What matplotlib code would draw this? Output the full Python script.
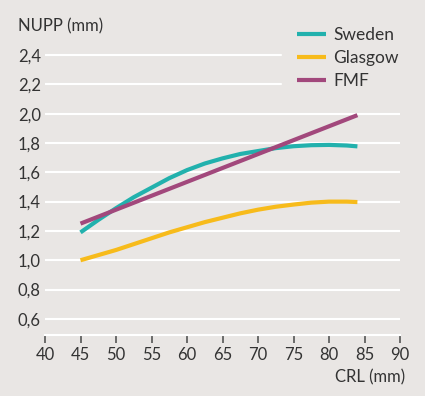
import matplotlib.pyplot as plt

crl = [45, 47.5, 50, 52.5, 55, 57.5, 60, 62.5, 65, 67.5, 70, 72.5, 75, 77.5, 80, 82.5, 84]
sweden = [1.19, 1.275, 1.355, 1.43, 1.495, 1.56, 1.615, 1.66, 1.695, 1.725,
          1.745, 1.765, 1.778, 1.785, 1.787, 1.783, 1.777]
glasgow = [1.00, 1.035, 1.07, 1.11, 1.15, 1.19, 1.225, 1.26, 1.29, 1.32,
           1.345, 1.365, 1.38, 1.393, 1.40, 1.40, 1.397]
fmf_x = [45, 84]
fmf = [1.25, 1.99]

yticks = [0.6, 0.8, 1.0, 1.2, 1.4, 1.6, 1.8, 2.0, 2.2, 2.4]
xticks = [40, 45, 50, 55, 60, 65, 70, 75, 80, 85, 90]

bg = "#e9e6e4"
txt = "#333333"
plt.rcParams["font.family"] = ["Lato", "DejaVu Sans"]

fig = plt.figure(figsize=(4.25, 3.96), dpi=100, facecolor=bg)
ax = fig.add_axes([45 / 425, 61 / 396, 355 / 425, 294.6 / 396], facecolor=bg)

ax.plot(crl, sweden, color="#22b1ad", lw=3, solid_capstyle="butt", label="Sweden")
ax.plot(crl, glasgow, color="#f7bb1b", lw=3, solid_capstyle="butt", label="Glasgow")
ax.plot(fmf_x, fmf, color="#a2487c", lw=3, solid_capstyle="butt", label="FMF")

ax.set_xlim(40, 90)
ax.set_ylim(0.49, 2.5)
ax.set_yticks(yticks)
ax.set_yticklabels([f"{v:.1f}".replace(".", ",") for v in yticks], ha="left")
ax.set_xticks(xticks)
ax.grid(axis="y", color="white", lw=1.5)
ax.set_axisbelow(True)
ax.tick_params(axis="y", length=0, pad=19.5, labelsize=12, labelcolor=txt)
ax.tick_params(axis="x", length=6, width=1.2, color="#555555", pad=3,
               labelsize=12, labelcolor=txt)
for s in ["top", "right", "left"]:
    ax.spines[s].set_visible(False)
ax.spines["bottom"].set_color("white")
ax.spines["bottom"].set_linewidth(1.5)

leg = ax.legend(loc="upper left", bbox_to_anchor=(282 / 425, 1 - 12 / 396),
                bbox_transform=fig.transFigure, frameon=True, facecolor=bg,
                edgecolor=bg, framealpha=1, fancybox=False, fontsize=12.5,
                handlelength=1.65, handletextpad=0.45, labelspacing=0.4,
                borderpad=0.86, borderaxespad=0)
for t in leg.get_texts():
    t.set_color(txt)

fig.text(18 / 425, 1 - 26 / 396, "NUPP (mm)", fontsize=12, color=txt,
         ha="left", va="center")
fig.text(405 / 425, 1 - 377 / 396, "CRL (mm)", fontsize=12, color=txt,
         ha="right", va="center")

fig.savefig("out.png", dpi=100, facecolor=bg)
